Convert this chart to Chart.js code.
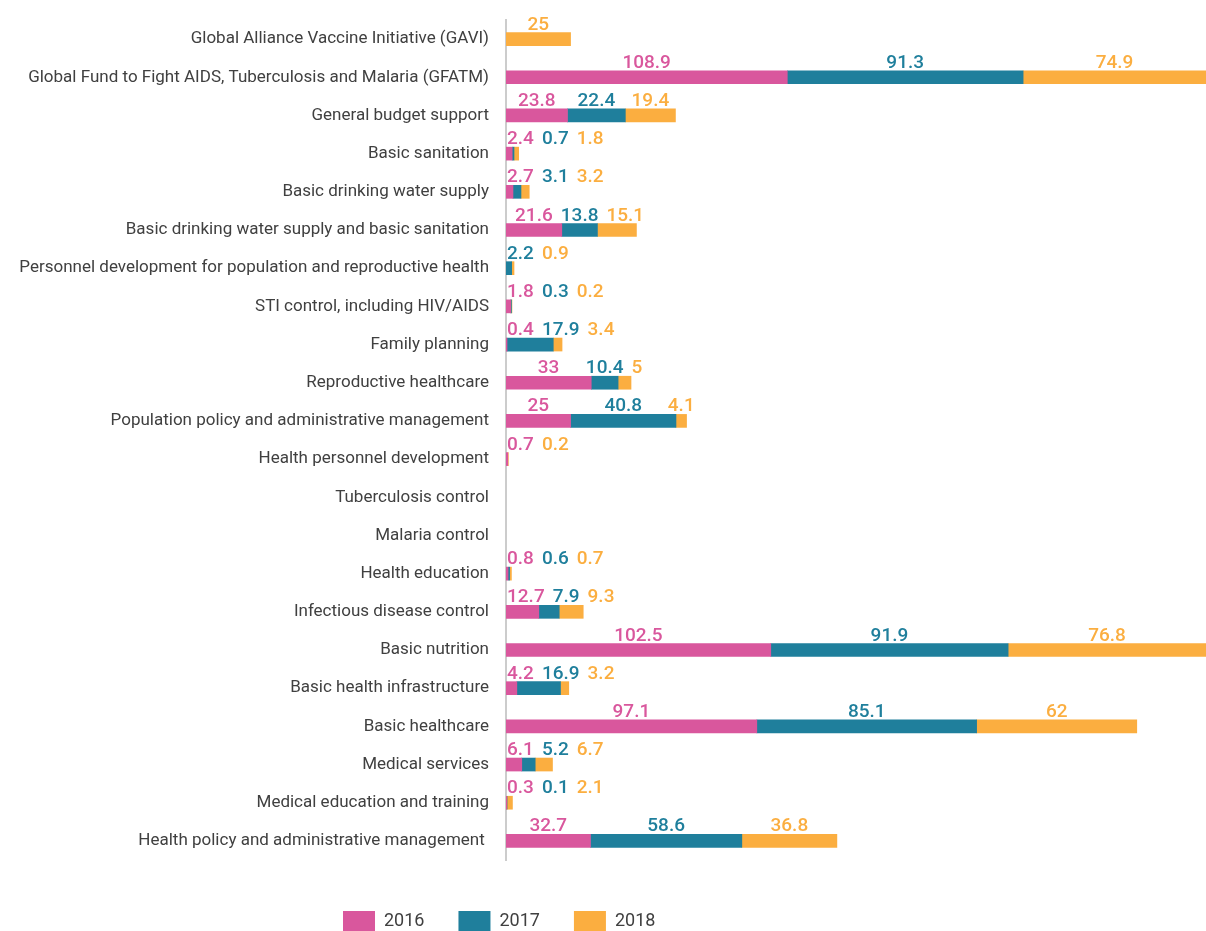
<!DOCTYPE html>
<html>
<head>
<meta charset="utf-8">
<script src="https://cdn.jsdelivr.net/npm/chart.js@4.4.1/dist/chart.umd.min.js"></script>
<style>
  body { margin: 0; background: #fff; }
  #wrap { width: 1206px; height: 931px; }
</style>
</head>
<body>
<div id="wrap"><canvas id="healthChart"></canvas></div>
<script>
// categories, top to bottom
const categories = [
  "Global Alliance Vaccine Initiative (GAVI)",
  "Global Fund to Fight AIDS, Tuberculosis and Malaria (GFATM)",
  "General budget support",
  "Basic sanitation",
  "Basic drinking water supply",
  "Basic drinking water supply and basic sanitation",
  "Personnel development for population and reproductive health",
  "STI control, including HIV/AIDS",
  "Family planning",
  "Reproductive healthcare",
  "Population policy and administrative management",
  "Health personnel development",
  "Tuberculosis control",
  "Malaria control",
  "Health education",
  "Infectious disease control",
  "Basic nutrition",
  "Basic health infrastructure",
  "Basic healthcare",
  "Medical services",
  "Medical education and training",
  "Health policy and administrative management "
];

const years = ["2016", "2017", "2018"];

const values2016 = [null, 108.9, 23.8, 2.4, 2.7, 21.6, null, 1.8, 0.4, 33, 25, 0.7, null, null, 0.8, 12.7, 102.5, 4.2, 97.1, 6.1, 0.3, 32.7];
const values2017 = [null, 91.3, 22.4, 0.7, 3.1, 13.8, 2.2, 0.3, 17.9, 10.4, 40.8, null, null, null, 0.6, 7.9, 91.9, 16.9, 85.1, 5.2, 0.1, 58.6];
const values2018 = [25, 74.9, 19.4, 1.8, 3.2, 15.1, 0.9, 0.2, 3.4, 5, 4.1, 0.2, null, null, 0.7, 9.3, 76.8, 3.2, 62, 6.7, 2.1, 36.8];

const colors = ["#D9579D", "#1F7F9C", "#FBAE40"];
const textColor = "#404040";

// labels above each segment, pushed right when they would overlap
const valueLabels = {
  id: "valueLabels",
  afterLayout(chart) {
    // legend sits left of centre in the original
    chart.legend.left = 309;
  },
  afterDatasetsDraw(chart) {
    const { ctx, chartArea } = chart;
    ctx.save();
    ctx.font = "500 19px Roboto";
    ctx.textAlign = "left";
    ctx.textBaseline = "alphabetic";
    categories.forEach((c, i) => {
      let prevRight = -Infinity;
      chart.data.datasets.forEach((ds, d) => {
        const v = ds.data[i];
        if (v == null) return;
        const bar = chart.getDatasetMeta(d).data[i];
        const left = Math.min(bar.base, bar.x);
        const right = Math.min(Math.max(bar.base, bar.x), chartArea.right);
        const txt = String(v);
        const w = ctx.measureText(txt).width;
        const x = Math.max((left + right) / 2 - w / 2, prevRight + 8, chartArea.left + 1);
        ctx.fillStyle = ds.backgroundColor;
        ctx.fillText(txt, x, bar.y - bar.height / 2 - 3);
        prevRight = x + w;
      });
    });
    ctx.restore();
  }
};

const chartData = {
  labels: categories,
  datasets: [values2016, values2017, values2018].map((vals, k) => ({
    label: years[k],
    data: vals,
    backgroundColor: colors[k],
    borderWidth: 0,
    barThickness: 13
  }))
};

const chartOptions = {
  indexAxis: "y",
  responsive: true,
  maintainAspectRatio: false,
  animation: false,
  layout: {
    padding: { top: 20, bottom: -10, left: 0, right: 0 }
  },
  scales: {
    x: {
      stacked: true,
      min: 0,
      max: 271,
      ticks: { display: false },
      grid: { display: false },
      border: { display: false },
      afterFit: (scale) => { scale.height = 17; }
    },
    y: {
      stacked: true,
      grid: { display: true, drawOnChartArea: false, drawTicks: false, color: "rgba(0,0,0,0)" },
      border: { display: true, color: "#CCCCCC", width: 2 },
      ticks: {
        padding: 17,
        color: textColor,
        font: { family: "Roboto", size: 17 }
      },
      afterFit: (scale) => {
        scale.width = 506;
        scale.paddingTop = 0;
        scale.paddingBottom = 0;
      }
    }
  },
  plugins: {
    tooltip: { enabled: false },
    legend: {
      position: "bottom",
      align: "start",
      labels: {
        boxWidth: 32,
        boxHeight: 20,
        padding: 34,
        color: textColor,
        font: { family: "Roboto", size: 18 }
      }
    }
  }
};

new Chart(document.getElementById("healthChart"), {
  type: "bar",
  data: chartData,
  options: chartOptions,
  plugins: [valueLabels]
});
</script>
</body>
</html>
